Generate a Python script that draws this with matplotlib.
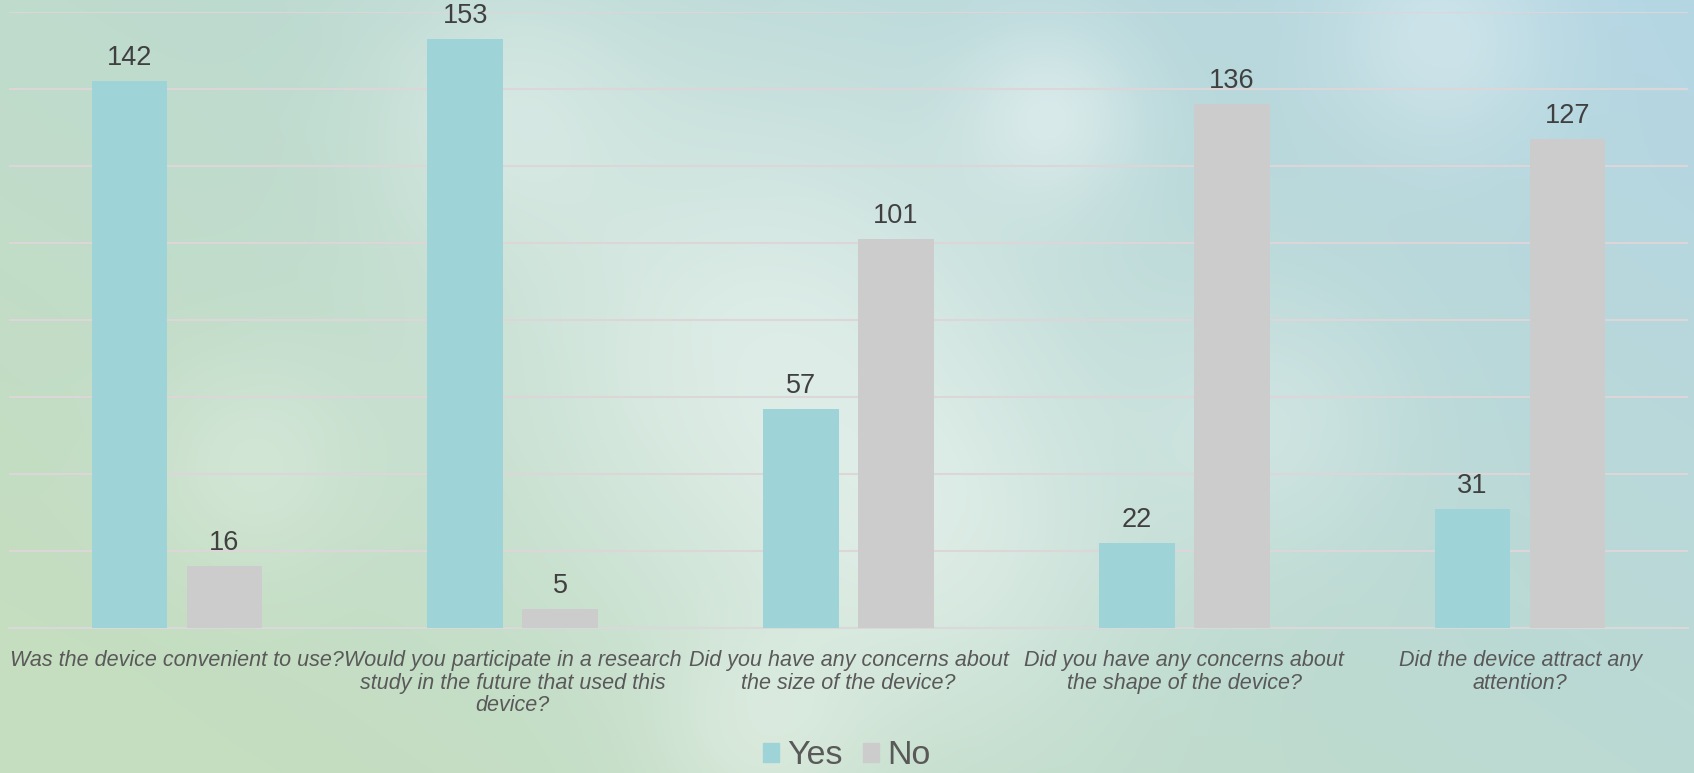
import numpy as np
import matplotlib.pyplot as plt
from matplotlib.patches import Patch

# dados
perguntas = [
    "Was the device convenient to use?",
    "Would you participate in a research\nstudy in the future that used this\ndevice?",
    "Did you have any concerns about\nthe size of the device?",
    "Did you have any concerns about\nthe shape of the device?",
    "Did the device attract any\nattention?",
]
sim = [142, 153, 57, 22, 31]
nao = [16, 5, 101, 136, 127]
series = ["Yes", "No"]

cor_sim = "#9ed3d8"
cor_nao = "#cccccc"

plt.rcParams["font.family"] = ["Liberation Sans", "DejaVu Sans"]

W, H = 1694, 773
fig = plt.figure(figsize=(W / 100, H / 100), dpi=100)

# fundo: gradiente verde -> azul com algumas manchas claras (bokeh)
bg = fig.add_axes([0, 0, 1, 1], zorder=-10)
yy, xx = np.mgrid[0:1:H * 1j, 0:1:W * 1j]
verde = np.array([197, 222, 192]) / 255
azul = np.array([180, 214, 228]) / 255
t = np.clip(0.65 * xx + 0.45 * (1 - yy) - 0.1, 0, 1)[..., None]
img = verde * (1 - t) + azul * t
blobs = [(0.45, 0.45, 0.25, 0.45), (0.55, 0.7, 0.18, 0.35), (0.3, 0.15, 0.12, 0.3),
         (0.62, 0.15, 0.08, 0.4), (0.15, 0.6, 0.1, 0.25), (0.75, 0.55, 0.12, 0.25),
         (0.85, 0.05, 0.1, 0.3), (0.45, 0.95, 0.1, 0.3)]
for bx, by, r, a in blobs:
    d = np.exp(-(((xx - bx) * W / H) ** 2 + (yy - by) ** 2) / (2 * r ** 2))
    img = img + (1 - img) * (a * d)[..., None]
bg.imshow(np.clip(img, 0, 1), aspect="auto", extent=[0, 1, 0, 1], origin="upper")
bg.axis("off")

ax = fig.add_axes([9 / W, (H - 628) / H, (1688 - 9) / W, (628 - 12) / H])
ax.patch.set_alpha(0)

x = np.arange(len(perguntas))
larg = 0.225
desloc = 0.1415
b1 = ax.bar(x - desloc, sim, larg, color=cor_sim, zorder=3)
b2 = ax.bar(x + desloc, nao, larg, color=cor_nao, zorder=3)

for barras in (b1, b2):
    for b in barras:
        ax.annotate(str(int(b.get_height())), (b.get_x() + b.get_width() / 2, b.get_height()),
                    xytext=(0, 11.5), textcoords="offset points", ha="center", va="baseline",
                    fontsize=19.5, color="#404040")

ax.set_ylim(0, 160)
ax.set_xlim(-0.5, len(perguntas) - 0.5)
ax.set_yticks(range(0, 161, 20))
ax.yaxis.grid(True, color="#dcd6d8", linewidth=1.5, zorder=0)
ax.tick_params(axis="y", left=False, labelleft=False)
ax.tick_params(axis="x", length=0, pad=16)
ax.set_xticks(x)
ax.set_xticklabels(perguntas, fontsize=15.5, style="italic", color="#595959",
                   multialignment="center", linespacing=1.09)
for s in ["top", "right", "left"]:
    ax.spines[s].set_visible(False)
ax.spines["bottom"].set_color("#d9d9d9")
ax.spines["bottom"].set_linewidth(1.5)

handles = [Patch(color=cor_sim), Patch(color=cor_nao)]
fig.legend(handles, series, loc="lower center", bbox_to_anchor=(0.5, 0.002), ncol=2,
           frameon=False, fontsize=24.5, handlelength=0.47, handleheight=0.47,
           handletextpad=0.24, columnspacing=0.6, borderpad=0, borderaxespad=0,
           labelcolor="#595959")

fig.savefig("out.png", dpi=100)
